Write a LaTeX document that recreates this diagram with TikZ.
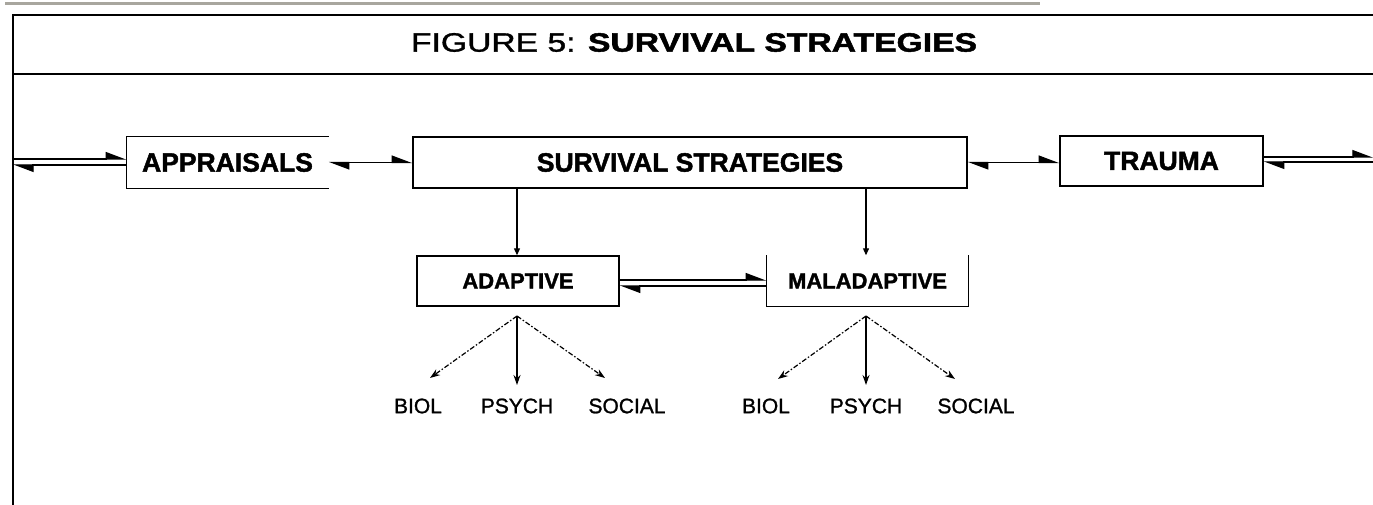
\documentclass[tikz,border=0pt]{standalone}
\usepackage{fontspec}
\setmainfont{Liberation Sans}
\newfontfamily\heavyfont{Liberation Sans Bold}[FakeBold=1.6]
\newfontfamily\medfont{Liberation Sans}[FakeBold=1.2]
\usetikzlibrary{arrows.meta}
\definecolor{bargray}{RGB}{168,166,158}
\tikzset{
  hh/.tip={Triangle[left,length=19pt,width=14pt]},
  sm/.tip={Triangle[length=7pt,width=6pt]},
  fan/.tip={Stealth[length=10pt,width=7pt]},
}
\begin{document}
\begin{tikzpicture}[x=1pt,y=-1pt,
  box/.style={draw, line width=1.4pt, inner sep=0pt, font=\heavyfont\fontsize{26.5}{30}\selectfont},
  sbox/.style={box, font=\heavyfont\fontsize{22}{26}\selectfont},
  lbl/.style={inner sep=0pt, font=\medfont\fontsize{21}{24}\selectfont},
  conn/.style={line width=1.2pt},
  dconn/.style={line width=1.2pt, dash pattern=on 5pt off 2pt on 1.5pt off 2pt},
  frame/.style={line width=2pt},
  ttl/.style={inner sep=0pt, font=\medfont\fontsize{26.5}{30}\selectfont}]
\useasboundingbox (0,0) rectangle (1373,505);
% gray bar and frame
\fill[bargray] (5,2) rectangle (1040,5);
\draw[frame] (1373,15) -- (13,15) -- (13,505);
\draw[frame] (13,74) -- (1373,74);
\node[ttl] (title) at (694,42.5) {\scalebox{1.27}[1]{FIGURE 5: {\heavyfont SURVIVAL STRATEGIES}}};
% boxes
\node[box, draw=none, minimum width=201pt, minimum height=51pt] (app) at (227.5,162.5) {APPRAISALS};
\draw[line width=1.4pt] (app.north east) -- (app.north west) -- (app.south west) -- (app.south east);
\node[box, minimum width=554pt, minimum height=51pt] (ss) at (690,162.5) {SURVIVAL STRATEGIES};
\node[box, minimum width=203pt, minimum height=50pt] (tr) at (1161.5,161) {TRAUMA};
\node[sbox, minimum width=202pt, minimum height=50pt] (ad) at (518,281) {ADAPTIVE};
\node[sbox, draw=none, minimum width=201pt, minimum height=50pt] (mal) at (867.5,281) {MALADAPTIVE};
\draw[line width=1.4pt] (mal.north west) -- (mal.south west) -- (mal.south east) -- (mal.north east);
% top row connectors
\coordinate (L1) at (13,159);
\coordinate (L2) at (13,165);
\draw[conn,-hh] (L1) -- (L1 -| app.west);
\draw[conn,-hh] (L2 -| app.west) -- (L2);
\draw[conn,hh-hh] (app.east) -- (ss.west);
\draw[conn,hh-hh] (ss.east) -- (ss.east -| tr.west);
\coordinate (R1) at (1373,157);
\coordinate (R2) at (1373,162);
\draw[conn,-hh] (R1 -| tr.east) -- (R1);
\draw[conn,-hh] (R2) -- (R2 -| tr.east);
% verticals
\coordinate (va) at (517,0);
\coordinate (vm) at (866,0);
\draw[conn,-sm] (ss.south -| va) -- (ad.north -| va);
\draw[conn,-sm] (ss.south -| vm) -- (mal.north -| vm);
% adaptive <-> maladaptive
\coordinate (m1) at (0,280);
\coordinate (m2) at (0,286);
\draw[conn,-hh] (ad.east |- m1) -- (mal.west |- m1);
\draw[conn,-hh] (mal.west |- m2) -- (ad.east |- m2);
% fans
\coordinate (a0) at (517,316);
\coordinate (a1) at (430,378);
\coordinate (a2) at (517,385);
\coordinate (a3) at (605,378);
\coordinate (b0) at (866,316);
\coordinate (b1) at (778,379);
\coordinate (b2) at (866,385);
\coordinate (b3) at (955,379);
\draw[dconn,-fan] (a0) -- (a1);
\draw[conn,-fan] (a0) -- (a2);
\draw[dconn,-fan] (a0) -- (a3);
\draw[dconn,-fan] (b0) -- (b1);
\draw[conn,-fan] (b0) -- (b2);
\draw[dconn,-fan] (b0) -- (b3);
\node[lbl] (ab) at (418,406) {BIOL};
\node[lbl] (ap) at (517,406) {PSYCH};
\node[lbl] (as) at (627,406) {SOCIAL};
\node[lbl] (mb) at (766,406) {BIOL};
\node[lbl] (mp) at (866,406) {PSYCH};
\node[lbl] (ms) at (976,406) {SOCIAL};
\end{tikzpicture}
\end{document}
